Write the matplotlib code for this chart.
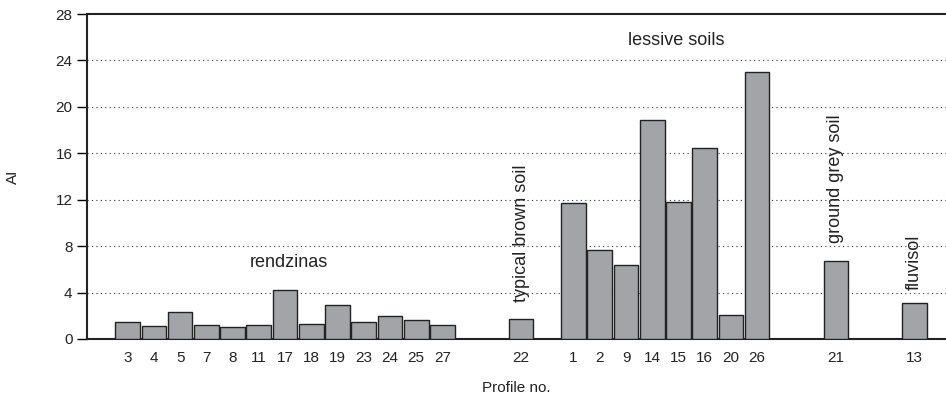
import matplotlib
matplotlib.use("Agg")
import matplotlib.pyplot as plt
import numpy as np

plt.rcParams['font.family'] = ['Liberation Sans', 'DejaVu Sans']

# Data
profiles = ["3", "4", "5", "7", "8", "11", "17", "18", "19", "23", "24", "25", "27",
            "22",
            "1", "2", "9", "14", "15", "16", "20", "26",
            "21",
            "13"]
slots = [0, 1, 2, 3, 4, 5, 6, 7, 8, 9, 10, 11, 12,
         15,
         17, 18, 19, 20, 21, 22, 23, 24,
         27,
         30]
ai_values = [1.50, 1.15, 2.36, 1.24, 1.07, 1.24, 4.26, 1.33, 2.93, 1.50, 2.02, 1.67, 1.24,
             1.76,
             11.75, 7.67, 6.35, 18.87, 11.84, 16.46, 2.10, 23.0,
             6.72,
             3.10]
y_ticks = [0, 4, 8, 12, 16, 20, 24, 28]

fig = plt.figure(figsize=(9.46, 3.99), dpi=100)
ax = fig.add_axes([87/946, 60/399, 1 - 87/946, (339-14)/399])

ax.bar(slots, ai_values, width=0.94, color="#a3a4a8", edgecolor="#222222",
       linewidth=1.0, zorder=3)

ax.set_xlim(-1.55, 31.2)
ax.set_ylim(0, 28)
ax.set_yticks(y_ticks)
ax.set_yticklabels([str(t) for t in y_ticks], fontsize=11, color="#222222")
ax.set_xticks(slots)
ax.set_xticklabels(profiles, fontsize=11, color="#222222")
ax.tick_params(axis="x", length=0, pad=8.5)
ax.tick_params(axis="y", length=7, width=1, direction="out", pad=3.5)

for g in y_ticks[1:-1]:
    ax.axhline(g, color="#333333", linestyle=(0, (1, 3)), linewidth=0.8, zorder=1)

ax.spines["right"].set_visible(False)
for s in ["left", "top", "bottom"]:
    ax.spines[s].set_linewidth(1.5)
    ax.spines[s].set_color("#222222")

ax.set_xlabel("Profile no.", fontsize=11, color="#222222", labelpad=12)
fig.text(13/946, 1 - 177/399, "AI", rotation=90, fontsize=11, color="#222222",
         ha="center", va="center")

txt = dict(fontsize=13, color="#222222")
ax.text(6.13, 6.6, "rendzinas", ha="center", va="center", **txt)
ax.text(20.9, 25.7, "lessive soils", ha="center", va="center", **txt)
ax.text(15, 3.2, "typical brown soil", rotation=90, ha="center", va="bottom", **txt)
ax.text(27, 8.3, "ground grey soil", rotation=90, ha="center", va="bottom", **txt)
ax.text(30, 4.2, "fluvisol", rotation=90, ha="center", va="bottom", **txt)

fig.savefig("out.png", dpi=100)
